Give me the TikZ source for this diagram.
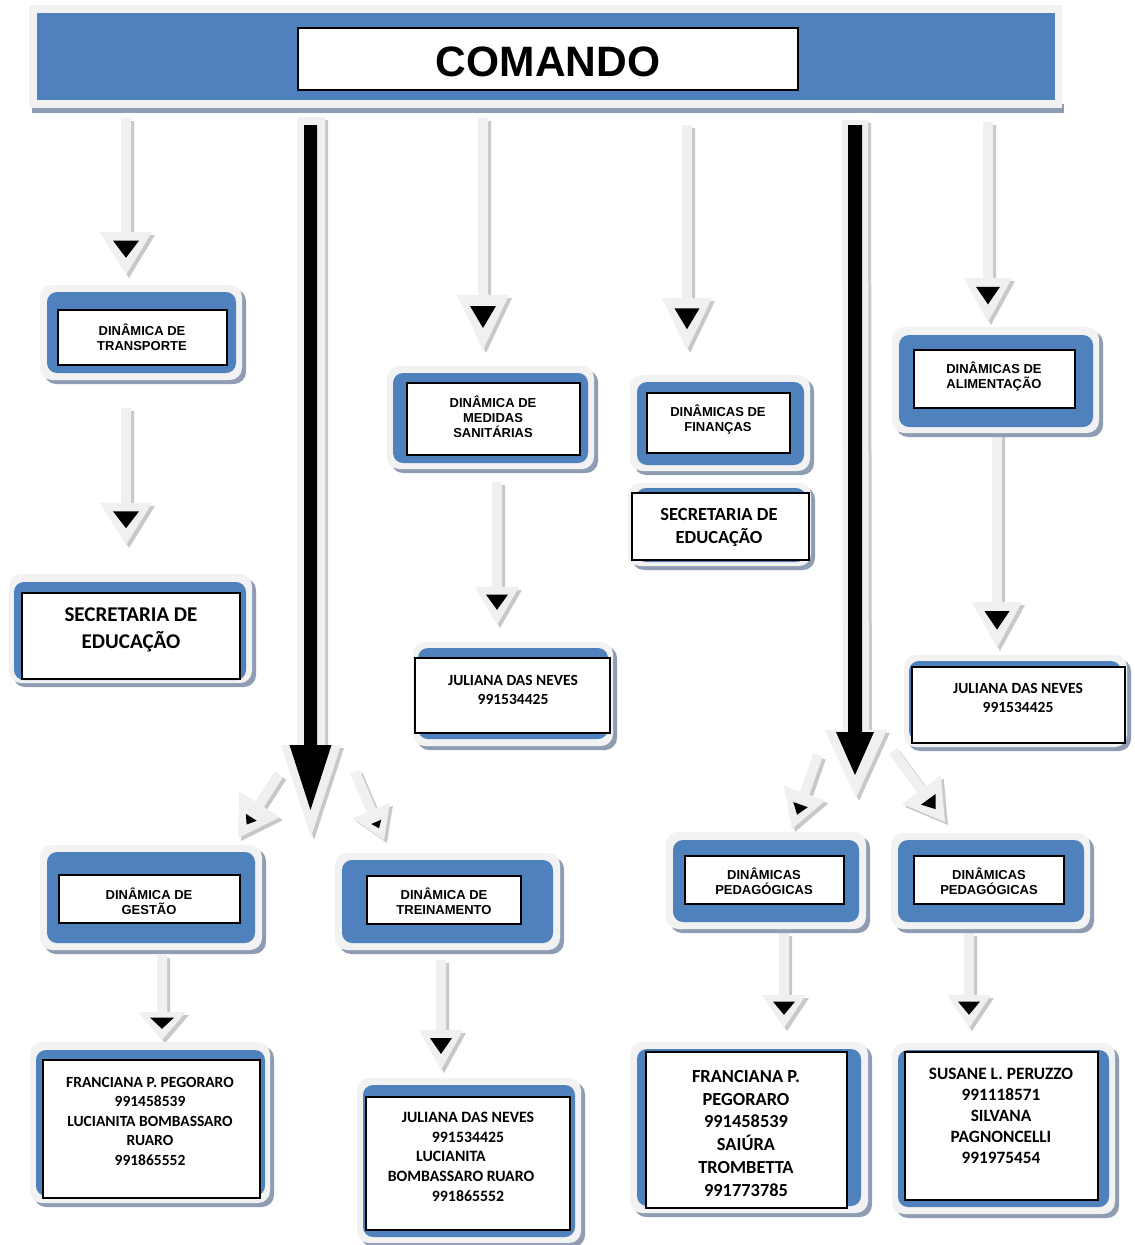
\documentclass[tikz,border=0pt]{standalone}
\usepackage{fontspec}
\setmainfont{Liberation Sans}
\newfontfamily\calfont{Carlito}
\usetikzlibrary{calc,fit}
\definecolor{bluec}{HTML}{4F81BD}
\definecolor{outerc}{HTML}{F2F2F2}
\definecolor{shadc}{HTML}{8E9DB3}
\definecolor{arrc}{HTML}{F0F0F0}
\definecolor{arrsh}{HTML}{C8C8C8}
\tikzset{
  lab/.style={font=\fontsize{13}{15}\selectfont\bfseries, align=center, inner sep=0pt},
  cal/.style={font=\calfont\fontsize{15.5}{19.5}\selectfont\bfseries, align=center, inner sep=0pt},
  wbox/.style={draw=black, line width=1.3pt, fill=white, inner sep=0pt},
}
% panel: outer grey rounded + shadow, blue inner
\newcommand\panel[4]{%
  \fill[shadc, rounded corners=12pt] ($(#1)+(4,4)$) rectangle ($(#2)+(4,4)$);
  \fill[outerc, rounded corners=12pt] (#1) rectangle (#2);
  \fill[bluec, rounded corners=10pt] (#3) rectangle (#4);}
% block arrow: #1 fill, #2 start, #3 tip, #4 half shaft, #5 half head, #6 head length
\newcommand\barrowshape[6]{%
  \coordinate (bh) at ($(#3)!#6!(#2)$);
  \fill[#1] ($(#2)!#4!90:(#3)$) -- ($(bh)!#4!90:(#3)$) -- ($(bh)!#5!90:(#3)$) -- (#3)
     -- ($(bh)!#5!-90:(#3)$) -- ($(bh)!#4!-90:(#3)$) -- ($(#2)!#4!-90:(#3)$) -- cycle;}
% light block arrow: [black triangle fraction] start, tip, half head, head length
\newcommand\larrow[5][0.5]{%
  \begin{scope}[transform canvas={shift={(3,3)}}]
    \barrowshape{arrsh}{#2}{#3}{5pt}{#4}{#5}
  \end{scope}
  \barrowshape{arrc}{#2}{#3}{5pt}{#4}{#5}
  \coordinate (bb) at ($(#3)!{(0.4+0.8*#1)*#5}!(#2)$);
  \fill[black] ($(bb)!{#1*#4}!90:(#3)$) -- ($(#3)!0.4*#5!(#2)$) -- ($(bb)!{#1*#4}!-90:(#3)$) -- cycle;}
\begin{document}
\begin{tikzpicture}[x=1pt,y=-1pt]
\useasboundingbox (0,0) rectangle (1135,1245);
\fill[white] (0,0) rectangle (1135,1245);

% ---- banner
\fill[shadc] (32,104) rectangle (1064,113);
\fill[outerc] (29,5) rectangle (1062,108);
\fill[bluec] (37,13) rectangle (1055,100);
\node[wbox, line width=2pt, fit={(298,28)(798,90)}] (comando) {};
\node[font=\fontsize{42.5}{48}\selectfont\bfseries, inner sep=0pt] (comandot) at (548,62) {COMANDO};

% ---- big black arrows
\begin{scope}[transform canvas={shift={(3,3)}}]
  \barrowshape{arrsh}{311,117}{311,837}{14pt}{30pt}{92pt}
  \barrowshape{arrsh}{855,120}{856,798}{13pt}{31pt}{68pt}
\end{scope}
\barrowshape{arrc}{311,117}{311,837}{14pt}{30pt}{92pt}
\barrowshape{black}{310.5,125}{310.5,810}{6.5pt}{21pt}{65pt}
\barrowshape{arrc}{855,120}{856,798}{13pt}{31pt}{68pt}
\barrowshape{black}{855,125}{855,775}{7pt}{19pt}{43pt}

% ---- light arrows
\larrow{126,118}{126,275}{26pt}{43pt}
\larrow{483,118}{483,350}{26pt}{55pt}
\larrow{687,125}{687,350}{25pt}{52pt}
\larrow{988,122}{988,322}{24pt}{44pt}
\larrow{126,408}{126,545}{26pt}{42pt}
\larrow{497,482}{497,625}{22pt}{38pt}
\larrow{997,432}{997,648}{25pt}{46pt}
\larrow[0.27]{279,774}{238,838}{24pt}{40pt}
\larrow[0.27]{355,772}{384,840}{20pt}{32pt}
\larrow[0.35]{818,755}{792,829}{22pt}{38pt}
\larrow[0.38]{893,751}{945,822}{24pt}{40pt}
\larrow{162,955}{162,1040}{24pt}{28pt}
\larrow{441,960}{441,1070}{22pt}{40pt}
\larrow{784,933}{784,1028}{22pt}{33pt}
\larrow{969,933}{969,1028}{22pt}{33pt}

% ---- A transporte
\panel{40,285}{242,380}{47,292}{236,373}
\node[wbox, fit={(58,310)(227,365)}] (transp) {};
\node[lab] (transpt) at (142,337) {DINÂMICA DE\\TRANSPORTE};
% ---- B secretaria left
\panel{9,574}{252,683}{14,582}{246,680}
\node[wbox, fit={(22,593)(240,679)}] (secl) {};
\node[cal, font=\calfont\fontsize{21}{27}\selectfont\bfseries] (seclt) at (131,630) {SECRETARIA DE\\EDUCAÇÃO};
% ---- C medidas
\panel{387,366}{594,469}{393,373}{588,463}
\node[wbox, fit={(407,383)(580,455)}] (medid) {};
\node[lab] (medidt) at (493,417) {DINÂMICA DE\\MEDIDAS\\SANITÁRIAS};
% ---- D financas
\panel{630,375}{810,471}{637,382}{804,465}
\node[wbox, fit={(647,393)(790,453)}] (finan) {};
\node[lab] (finant) at (718,420) {DINÂMICAS DE\\FINANÇAS};
% ---- E secretaria mid
\panel{628,483}{811,566}{636,488}{806,562}
\node[wbox, fit={(632,493)(809,560)}] (secm) {};
\node[cal, font=\calfont\fontsize{18.5}{23}\selectfont\bfseries] (secmt) at (719,527) {SECRETARIA DE\\EDUCAÇÃO};
% ---- F alimentacao
\panel{892,327}{1099,433}{899,335}{1093,427}
\node[wbox, fit={(914,350)(1075,408)}] (alim) {};
\node[lab] (alimt) at (994,377) {DINÂMICAS DE\\ALIMENTAÇÃO};
% ---- G juliana mid
\panel{413,642}{613,746}{418,648}{608,739}
\node[wbox, fit={(415,658)(610,733)}] (julm) {};
\node[cal] (julmt) at (513,690) {JULIANA DAS NEVES\\991534425};
% ---- H juliana right
\panel{904,655}{1127,747}{909,661}{1121,741}
\node[wbox, fit={(912,667)(1125,743)}] (julr) {};
\node[cal] (julrt) at (1018,698) {JULIANA DAS NEVES\\991534425};
% ---- I gestao
\panel{40,845}{262,950}{47,852}{255,943}
\node[wbox, fit={(59,875)(240,923)}] (gest) {};
\node[lab] (gestt) at (149,901) {DINÂMICA DE\\GESTÃO};
% ---- J treinamento
\panel{335,853}{560,950}{342,860}{553,943}
\node[wbox, fit={(367,876)(521,924)}] (trei) {};
\node[lab] (treit) at (444,901) {DINÂMICA DE\\TREINAMENTO};
% ---- K pedagogicas 1
\panel{666,832}{866,929}{673,840}{859,922}
\node[wbox, fit={(685,856)(844,904)}] (ped1) {};
\node[lab] (ped1t) at (764,881) {DINÂMICAS\\PEDAGÓGICAS};
% ---- L pedagogicas 2
\panel{891,833}{1090,929}{898,840}{1084,922}
\node[wbox, fit={(914,856)(1064,904)}] (ped2) {};
\node[lab] (ped2t) at (989,881) {DINÂMICAS\\PEDAGÓGICAS};
% ---- M
\panel{30,1042}{270,1203}{36,1050}{265,1196}
\node[wbox, fit={(43,1060)(260,1198)}] (pm) {};
\node[cal, anchor=north] (pmt) at (150,1077) {FRANCIANA P. PEGORARO\\991458539\\LUCIANITA BOMBASSARO\\RUARO\\991865552};
% ---- N
\panel{357,1078}{581,1243}{363,1085}{575,1237}
\node[wbox, fit={(366,1097)(570,1230)}] (pn) {};
\node[cal, font=\calfont\fontsize{15.8}{19.7}\selectfont\bfseries, anchor=north] (pnt) at (468,1112) {JULIANA DAS NEVES\\991534425\\LUCIANITA\rule{34pt}{0pt}\\BOMBASSARO RUARO\rule{14pt}{0pt}\\991865552};
% ---- O
\panel{630,1042}{868,1213}{637,1049}{861,1206}
\node[wbox, fit={(646,1052)(847,1208)}] (po) {};
\node[cal, font=\calfont\fontsize{18.4}{22.8}\selectfont\bfseries, anchor=north] (pot) at (746,1070) {FRANCIANA P.\\PEGORARO\\991458539\\SAIÚRA\\TROMBETTA\\991773785};
% ---- P
\panel{892,1043}{1115,1214}{898,1050}{1109,1207}
\node[wbox, fit={(905,1052)(1098,1200)}] (pp) {};
\node[cal, font=\calfont\fontsize{17.3}{21}\selectfont\bfseries, anchor=north] (ppt) at (1001,1068) {SUSANE L. PERUZZO\\991118571\\SILVANA\\PAGNONCELLI\\991975454};
\end{tikzpicture}
\end{document}
